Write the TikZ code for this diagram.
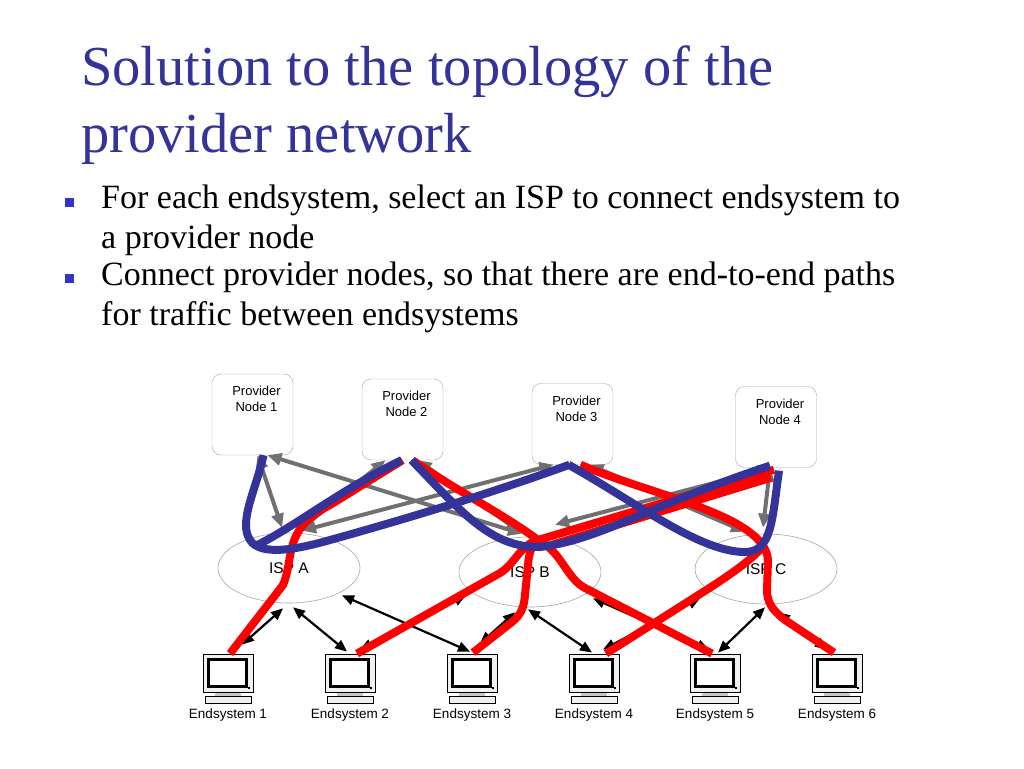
\documentclass[tikz,border=0pt]{standalone}
\usepackage{fontspec}
\setmainfont{Liberation Serif}
\newfontfamily\arialfont{Liberation Sans}
\usetikzlibrary{shapes.geometric,arrows.meta}
\definecolor{titleblue}{RGB}{51,51,153}
\definecolor{bulletblue}{RGB}{51,51,204}
\definecolor{pathblue}{RGB}{51,51,153}
\definecolor{linkgray}{RGB}{112,112,112}

\begin{document}
\begin{tikzpicture}[x=1pt,y=-1pt,
            titleline/.style={anchor=base west, inner sep=0pt, text=titleblue, font=\fontsize{56.5}{67}\selectfont},
            itemline/.style={anchor=base west, inner sep=0pt, font=\fontsize{34}{40}\selectfont},
            bullet/.style={fill=bulletblue, minimum size=9pt, inner sep=0pt},
            pnode/.style={draw=gray!70, fill=white, rounded corners=9pt, minimum width=81pt, minimum height=81pt, inner sep=0pt,
                label={[align=center, anchor=north, xshift=4pt, yshift=-9pt, font=\arialfont\fontsize{13}{16}\selectfont]north:{Provider\\Node #1}}},
            isp/.style={draw=gray!70, fill=white, ellipse, line width=0.6pt, minimum width=142pt, minimum height=70pt, inner sep=0pt, font=\arialfont\fontsize{15.5}{18}\selectfont},
            monitor/.style={draw=black, fill=gray!12, line width=0.8pt, minimum width=50pt, minimum height=38pt, inner sep=0pt},
            eslabel/.style={inner sep=0pt, font=\arialfont\fontsize{13.5}{16}\selectfont},
            access/.style={black, line width=2.2pt, {Triangle[length=12pt,width=10pt]}-{Triangle[length=12pt,width=10pt]}},
            uplink/.style={linkgray, line width=4pt, {Triangle[length=14pt,width=12pt]}-{Triangle[length=14pt,width=12pt]}},
            redpath/.style={red, line width=8pt},
            bluepath/.style={pathblue, line width=8pt}]
            \path[use as bounding box, fill=white] (0,0) rectangle (1024,768);

            \node[titleline] (title1) at (81,85) {Solution to the topology of the};
            \node[titleline] (title2) at (81,152) {provider network};
            \node[bullet] (dot1) at (69,202) {};
            \node[itemline] (item1a) at (101,208) {For each endsystem, select an ISP to connect endsystem to};
            \node[itemline] (item1b) at (101,248) {a provider node};
            \node[bullet] (dot2) at (69,278) {};
            \node[itemline] (item2a) at (101,285) {Connect provider nodes, so that there are end-to-end paths};
            \node[itemline] (item2b) at (101,325) {for traffic between endsystems};

            \node[pnode=1] (pn1) at (252.5,414.5) {};
            \node[pnode=2] (pn2) at (402.5,419.5) {};
            \node[pnode=3] (pn3) at (572.5,424) {};
            \node[pnode=4] (pn4) at (776,427) {};

            \node[isp] (ispA) at (289,568) {ISP A};
            \node[isp] (ispB) at (530,572) {ISP B};
            \node[isp] (ispC) at (766,569) {ISP C};
            \coordinate (hubB) at (538,540);
            \coordinate (hubC) at (764,545);

            \foreach \i/\x in {1/228,2/350,3/472,4/594,5/715,6/837}{
                \node[monitor] (es\i) at (\x,673) {};
                \draw[line width=2.5pt, fill=white] ([shift={(6,6)}]es\i.north west) rectangle ([shift={(-7,-6)}]es\i.south east);
                \fill[black] ([shift={(-5,-5)}]es\i.south east) rectangle ([shift={(-3,-3.5)}]es\i.south east);
                \fill[gray!45] ([shift={(-13,0.5)}]es\i.south) rectangle ([shift={(13,4)}]es\i.south);
                \draw[fill=gray!12, line width=0.8pt] ([shift={(-23,4)}]es\i.south) rectangle ([shift={(23,11)}]es\i.south);
                \node[eslabel] (esl\i) at ([shift={(0,23)}]es\i.south) {Endsystem \i};
            }

            \draw[uplink] ([shift={(5,0)}]pn1.south) -- ([shift={(-7,-5)}]ispA.north);
            \draw[uplink] ([shift={(15,0)}]pn1.south) -- ([shift={(-8,-3)}]ispB.north);
            \draw[uplink] ([shift={(-17,0)}]pn2.south) -- ([shift={(11,-3)}]ispA.north);
            \draw[uplink] ([shift={(15,0)}]pn2.south) -- ([shift={(-10,-5)}]ispB.north);
            \draw[uplink] ([shift={(-19,0)}]pn3.south) -- ([shift={(13,-2)}]ispA.north);
            \draw[uplink] ([shift={(17,0)}]pn3.south) -- ([shift={(-21,-2)}]ispC.north);
            \draw[uplink] ([shift={(-4,0)}]pn4.south) -- ([shift={(25,-12)}]ispB.north);
            \draw[uplink] ([shift={(-6,0)}]pn4.south) -- ([shift={(-3,-6)}]ispC.north);

            \draw[access] ([shift={(-6,5)}]ispA.south) -- ([shift={(14,-9)}]es1.north);
            \draw[access] ([shift={(4,4)}]ispA.south) -- ([shift={(-3,-2)}]es2.north);
            \draw[access] ([shift={(53,-8)}]ispA.south) -- ([shift={(-2,-2)}]es3.north);
            \draw[access] ([shift={(-64,-12)}]ispB.south) -- ([shift={(10,-4)}]es2.north);
            \draw[access] ([shift={(-15,5)}]ispB.south) -- ([shift={(8,-10)}]es3.north);
            \draw[access] ([shift={(-2,2)}]ispB.south) -- ([shift={(-2,-1)}]es4.north);
            \draw[access] ([shift={(63,-9)}]ispB.south) -- ([shift={(-6,-4)}]es5.north);
            \draw[access] ([shift={(-66,-6)}]ispC.south) -- ([shift={(9,-4)}]es4.north);
            \draw[access] ([shift={(-1,3)}]ispC.south) -- ([shift={(3,-1)}]es5.north);
            \draw[access] ([shift={(12,8)}]ispC.south) -- ([shift={(-10,-4)}]es6.north);

            \draw[redpath] ([shift={(2,0)}]es1.north) -- (283,585) .. controls (295,556) and (282,530) .. (330,505) -- (pn2.south);
            \draw[redpath] ([shift={(7,0)}]es2.north) -- (500,573) .. controls (515,564) and (520,545) .. (hubB);
            \draw[redpath] ([shift={(1,-1)}]es3.north) -- (512,622) .. controls (522,614) and (524,606) .. (525,595) -- (528,565) .. controls (529,552) and (532,545) .. (hubB);
            \draw[redpath] ([shift={(-3,0)}]es5.north) -- (585,588) .. controls (566,578) and (562,552) .. (hubB);
            \draw[redpath] ([shift={(10,0)}]pn2.south) .. controls (455,490) and (505,515) .. (hubB);
            \draw[redpath] ([shift={(-2,2)}]pn4.south) -- (hubB);
            \draw[redpath] ([shift={(-5,10)}]pn4.south) -- ([shift={(10,6)}]hubB);
            \draw[redpath] ([shift={(8,0)}]pn3.south) .. controls (650,495) and (765,515) .. (768,560) -- (767,590) .. controls (767,602) and (772,610) .. (785,620) -- ([shift={(-3,-1)}]es6.north);
            \draw[redpath] ([shift={(12,0)}]es4.north) -- (700,594) .. controls (735,572) and (756,556) .. (hubC);

            \draw[bluepath] ([shift={(11,0)}]pn1.south) .. controls (256,490) and (238,522) .. (250,540) .. controls (260,556) and (295,550) .. (330,540) .. controls (420,515) and (500,490) .. ([shift={(-3,0)}]pn3.south);
            \draw[bluepath] ([shift={(-1,0)}]pn2.south) .. controls (340,490) and (290,530) .. (255,546);
            \draw[bluepath] ([shift={(9,0)}]pn2.south) .. controls (460,510) and (490,548) .. (540,547) .. controls (600,540) and (650,505) .. ([shift={(-6,-2)}]pn4.south);
            \draw[bluepath] ([shift={(-4,0)}]pn3.south) .. controls (640,505) and (700,552) .. (745,552) .. controls (772,552) and (772,520) .. ([shift={(3,3)}]pn4.south);
        \end{tikzpicture}
\end{document}
